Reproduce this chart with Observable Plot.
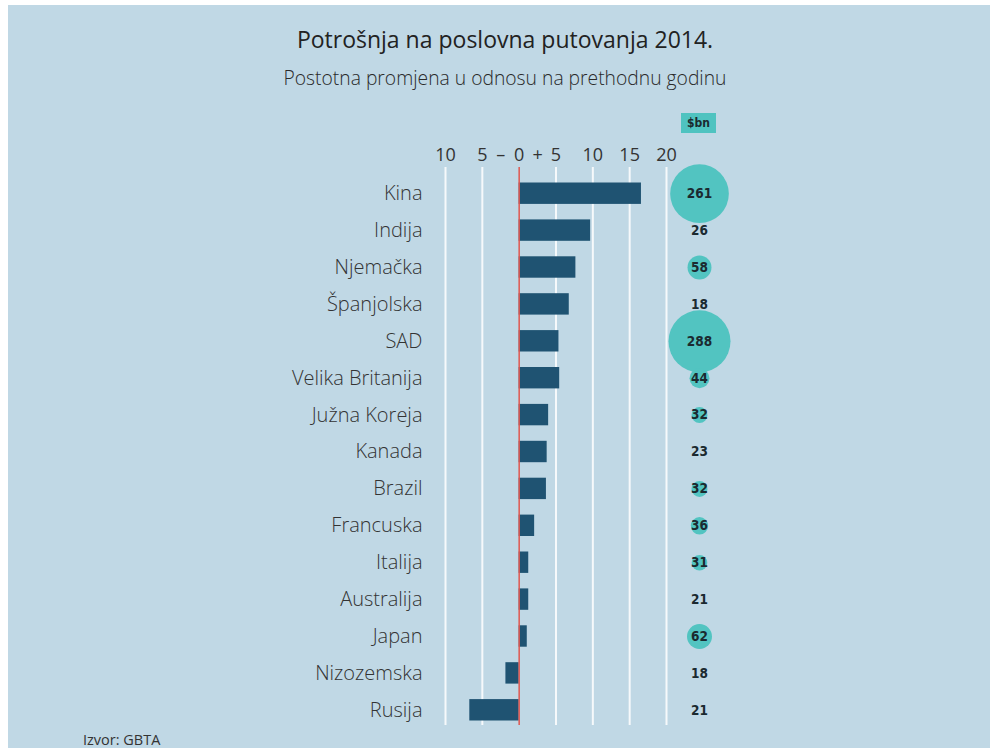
<!DOCTYPE html>
<html><head><meta charset="utf-8">
<script src="https://cdn.jsdelivr.net/npm/d3@7"></script>
<script src="https://cdn.jsdelivr.net/npm/@observablehq/plot@0.6"></script>
<style>
body{margin:0;background:#fff;width:990px;height:748px;overflow:hidden;position:relative;font-family:"Open Sans",sans-serif;}
#bg{position:absolute;left:8px;top:5px;width:982px;height:743px;background:#c0d8e5;}
.c{position:absolute;transform:translateX(-50%);white-space:nowrap;color:#222;line-height:normal;}
#title{left:505px;top:23px;font-size:23px;}
#subtitle{left:505px;top:64px;font-size:19.3px;color:#2a2a2a;font-weight:300;}
#unit{position:absolute;left:681px;top:113px;width:35px;height:20px;background:#4fc3c0;color:#1b2a30;font:bold 12px "DejaVu Sans Condensed","DejaVu Sans",sans-serif;line-height:20px;text-align:center;}
#chart{position:absolute;left:8px;top:100px;line-height:0;}
#source{position:absolute;left:83px;top:730px;font-size:14.5px;color:#333;}
</style></head>
<body>
<div id="bg"></div>
<div id="title" class="c">Potrošnja na poslovna putovanja 2014.</div>
<div id="subtitle" class="c">Postotna promjena u odnosu na prethodnu godinu</div>
<div id="unit">$bn</div>
<div id="chart"></div>
<div id="source">Izvor: GBTA</div>
<script>
const countries = ["Kina","Indija","Njemačka","Španjolska","SAD","Velika Britanija","Južna Koreja","Kanada","Brazil","Francuska","Italija","Australija","Japan","Nizozemska","Rusija"];
const change = [16.6, 9.7, 7.7, 6.8, 5.4, 5.5, 4.0, 3.8, 3.7, 2.1, 1.3, 1.3, 1.1, -1.8, -6.7];
const spend = [261, 26, 58, 18, 288, 44, 32, 23, 32, 36, 31, 21, 62, 18, 21];
const tickValues = [-10, -5, -2.5, 0, 2.5, 5, 10, 15, 20];
const tickLabels = ["10", "5", "–", "0", "+", "5", "10", "15", "20"];
const gridValues = [-10, -5, 5, 10, 15, 20];

const rows = countries.map((c, i) => ({country: c, change: change[i], spend: spend[i]}));

const chart = Plot.plot({
  width: 982, height: 648,
  marginLeft: 437, marginRight: 324, marginTop: 67, marginBottom: 12,
  style: {background: "transparent", fontFamily: "Open Sans, sans-serif", color: "#333"},
  x: {domain: [-10, 20], axis: null},
  y: {domain: countries, padding: 0.42, round: false, axis: null},
  r: {type: "sqrt", domain: [3, 288], range: [0, 31]},
  marks: [
    Plot.ruleX(gridValues, {stroke: "#ffffff", strokeWidth: 2, strokeOpacity: 0.85, insetBottom: 11}),
    Plot.barX(rows, {x: "change", y: "country", fill: "#1f5372"}),
    Plot.ruleX([0], {stroke: "#e0574f", strokeWidth: 1.5, insetBottom: 11}),
    Plot.axisX({anchor: "top", ticks: tickValues, tickFormat: d => tickLabels[tickValues.indexOf(d)], tickSize: 0, tickPadding: 7, fontSize: 18, label: null}),
    Plot.axisY({anchor: "left", tickSize: 0, tickPadding: 23, fontSize: 20, fontWeight: 300, label: null}),
    Plot.dot(rows.filter(d => d.spend >= 30), {y: "country", r: "spend", fill: "#52c4c1", frameAnchor: "right", dx: 33}),
    Plot.text(rows, {y: "country", text: d => String(d.spend), frameAnchor: "right", dx: 33, textAnchor: "middle", fontWeight: "bold", fontSize: 13.5, fill: "#1b2a30", fontFamily: "DejaVu Sans Condensed, DejaVu Sans, sans-serif"})
  ]
});
document.getElementById("chart").appendChild(chart);
</script>
</body></html>
